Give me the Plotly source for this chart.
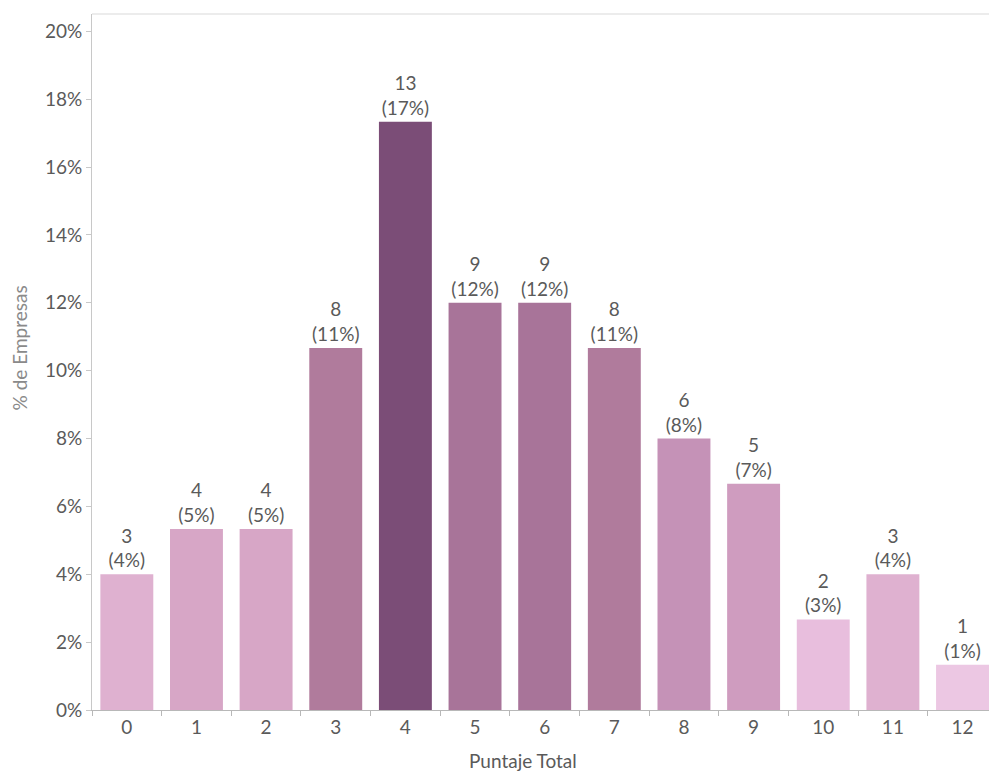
import plotly.graph_objects as go

categories = ["0", "1", "2", "3", "4", "5", "6", "7", "8", "9", "10", "11", "12"]
counts = [3, 4, 4, 8, 13, 9, 9, 8, 6, 5, 2, 3, 1]
y_ticks = [0, 0.02, 0.04, 0.06, 0.08, 0.10, 0.12, 0.14, 0.16, 0.18, 0.20]

total = sum(counts)
shares = [c / total for c in counts]
labels = [f"{c}<br>({round(s*100):.0f}%)" for c, s in zip(counts, shares)]

# sequential colour scale keyed on the count
stops = [(1, "#ecc7e3"), (2, "#e8bedd"), (3, "#dfb1d0"), (4, "#d7a6c6"),
         (5, "#cf9cbf"), (6, "#c592b7"), (8, "#b07b9c"), (9, "#a87499"),
         (13, "#7b4d77")]
cmin, cmax = 1, 13
colorscale = [[(v - cmin) / (cmax - cmin), c] for v, c in stops]

font = "Lato, 'Open Sans', sans-serif"
grey = "#5a5a5a"

fig = go.Figure(go.Bar(
    x=categories, y=shares,
    marker=dict(color=counts, colorscale=colorscale, cmin=cmin, cmax=cmax,
                line=dict(width=0)),
    width=0.76,
    text=labels, textposition="outside", cliponaxis=False,
    textfont=dict(size=19, color=grey, family=font),
    hoverinfo="skip",
))

fig.update_layout(
    width=989, height=775,
    margin=dict(l=92, r=0, t=14, b=65),
    paper_bgcolor="white", plot_bgcolor="white",
    showlegend=False,
    font=dict(family=font, color=grey),
    bargap=0.24,
)
fig.update_xaxes(
    type="category", range=[-0.5, 12.38],
    showline=True, linecolor="#b8b8b8", linewidth=1,
    ticks="outside", tickson="boundaries", ticklen=5, tickcolor="#b8b8b8",
    tickfont=dict(size=19, color=grey, family=font),
    showgrid=False, zeroline=False,
)
fig.update_yaxes(
    range=[0, 0.2051],
    tickvals=y_ticks, tickformat=".0%",
    showline=True, linecolor="#c8c8c8", linewidth=1,
    ticks="outside", ticklen=5, tickcolor="#c8c8c8",
    tickfont=dict(size=19, color=grey, family=font),
    showgrid=False, zeroline=False,
)
fig.add_shape(type="line", xref="paper", yref="paper", x0=0, x1=1, y0=1, y1=1,
              line=dict(color="#d9d9d9", width=1))
fig.add_annotation(text="% de Empresas", xref="paper", yref="paper",
                   x=-0.081, y=0.52, textangle=-90, showarrow=False,
                   xanchor="center", yanchor="middle",
                   font=dict(size=19, color="#8a8a8a", family=font))
fig.add_annotation(text="Puntaje Total", xref="paper", yref="paper",
                   x=0.4805, y=-0.073, showarrow=False,
                   xanchor="center", yanchor="middle",
                   font=dict(size=19, color=grey, family=font))

fig.write_html("out.html")
